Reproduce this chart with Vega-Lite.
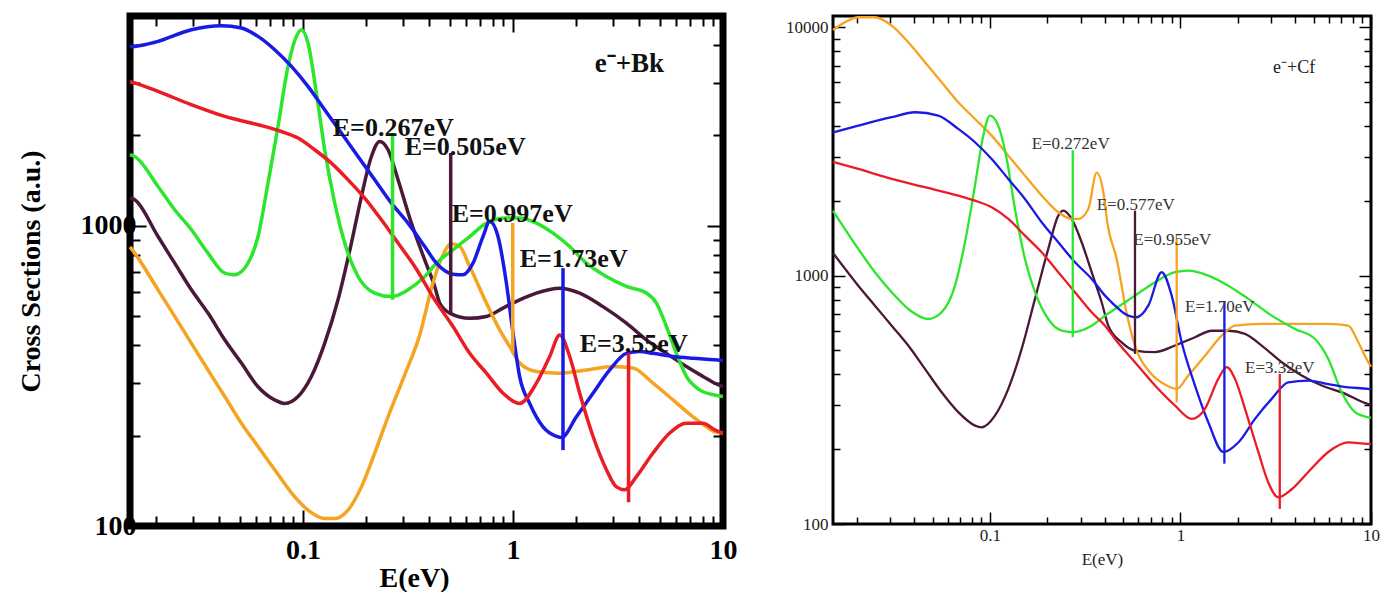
{
  "$schema": "https://vega.github.io/schema/vega-lite/v6.json",
  "autosize": {"type": "none"},
  "padding": {"left": 130, "top": 16, "right": 1252, "bottom": 576},
  "background": "white",
  "datasets": {
    "bk": [
      {"curve":"purple","E":0.015,"cs":1240},{"curve":"purple","E":0.0158,"cs":1221},{"curve":"purple","E":0.0204,"cs":921},{"curve":"purple","E":0.02449,"cs":751},{"curve":"purple","E":0.02941,"cs":612},{"curve":"purple","E":0.03529,"cs":512},{"curve":"purple","E":0.04238,"cs":417},{"curve":"purple","E":0.05088,"cs":349},{"curve":"purple","E":0.06105,"cs":291},{"curve":"purple","E":0.07331,"cs":263},{"curve":"purple","E":0.08182,"cs":256},{"curve":"purple","E":0.0947,"cs":270},{"curve":"purple","E":0.1096,"cs":315},{"curve":"purple","E":0.1268,"cs":406},{"curve":"purple","E":0.1468,"cs":567},{"curve":"purple","E":0.17,"cs":876},{"curve":"purple","E":0.1897,"cs":1252},{"curve":"purple","E":0.2117,"cs":1702},{"curve":"purple","E":0.2319,"cs":1910},{"curve":"purple","E":0.254,"cs":1792},{"curve":"purple","E":0.2835,"cs":1424},{"curve":"purple","E":0.3282,"cs":1021},{"curve":"purple","E":0.3798,"cs":770},{"curve":"purple","E":0.4238,"cs":628},{"curve":"purple","E":0.4477,"cs":553},{"curve":"purple","E":0.4995,"cs":512},{"curve":"purple","E":0.6221,"cs":492},{"curve":"purple","E":0.747,"cs":499},{"curve":"purple","E":0.8962,"cs":532},{"curve":"purple","E":1.0762,"cs":567},{"curve":"purple","E":1.2922,"cs":597},{"curve":"purple","E":1.6686,"cs":620},{"curve":"purple","E":2.0777,"cs":597},{"curve":"purple","E":2.6827,"cs":538},{"curve":"purple","E":3.4674,"cs":474},{"curve":"purple","E":4.3176,"cs":417},{"curve":"purple","E":5.3773,"cs":376},{"curve":"purple","E":6.6942,"cs":340},{"curve":"purple","E":8.0311,"cs":315},{"curve":"purple","E":9.131,"cs":299},{"curve":"purple","E":10,"cs":291},
      {"curve":"orange","E":0.015,"cs":851},{"curve":"orange","E":0.0158,"cs":811},{"curve":"orange","E":0.0204,"cs":612},{"curve":"orange","E":0.02449,"cs":499},{"curve":"orange","E":0.02941,"cs":406},{"curve":"orange","E":0.03529,"cs":331},{"curve":"orange","E":0.04238,"cs":270},{"curve":"orange","E":0.05088,"cs":220},{"curve":"orange","E":0.06105,"cs":184},{"curve":"orange","E":0.07331,"cs":154},{"curve":"orange","E":0.0881,"cs":129},{"curve":"orange","E":0.1056,"cs":113},{"curve":"orange","E":0.1268,"cs":106},{"curve":"orange","E":0.1416,"cs":106},{"curve":"orange","E":0.1638,"cs":113},{"curve":"orange","E":0.1897,"cs":135},{"curve":"orange","E":0.2195,"cs":175},{"curve":"orange","E":0.254,"cs":231},{"curve":"orange","E":0.305,"cs":319},{"curve":"orange","E":0.3596,"cs":433},{"curve":"orange","E":0.4159,"cs":646},{"curve":"orange","E":0.4642,"cs":801},{"curve":"orange","E":0.5089,"cs":871},{"curve":"orange","E":0.5575,"cs":853},{"curve":"orange","E":0.6221,"cs":732},{"curve":"orange","E":0.747,"cs":553},{"curve":"orange","E":0.8643,"cs":450},{"curve":"orange","E":0.9645,"cs":396},{"curve":"orange","E":1.0762,"cs":349},{"curve":"orange","E":1.2922,"cs":327},{"curve":"orange","E":1.6686,"cs":323},{"curve":"orange","E":2.2358,"cs":331},{"curve":"orange","E":2.9938,"cs":340},{"curve":"orange","E":3.7276,"cs":336},{"curve":"orange","E":4.6416,"cs":299},{"curve":"orange","E":5.7801,"cs":263},{"curve":"orange","E":7.1955,"cs":231},{"curve":"orange","E":8.3367,"cs":214},{"curve":"orange","E":9.131,"cs":206},{"curve":"orange","E":10,"cs":204},
      {"curve":"green","E":0.015,"cs":1725},{"curve":"green","E":0.0158,"cs":1702},{"curve":"green","E":0.0204,"cs":1352},{"curve":"green","E":0.02449,"cs":1131},{"curve":"green","E":0.02941,"cs":970},{"curve":"green","E":0.03529,"cs":811},{"curve":"green","E":0.04238,"cs":696},{"curve":"green","E":0.04727,"cs":687},{"curve":"green","E":0.0547,"cs":751},{"curve":"green","E":0.06105,"cs":921},{"curve":"green","E":0.06813,"cs":1388},{"curve":"green","E":0.07603,"cs":2143},{"curve":"green","E":0.08484,"cs":3396},{"curve":"green","E":0.093,"cs":4276},{"curve":"green","E":0.0983,"cs":4501},{"curve":"green","E":0.1056,"cs":4064},{"curve":"green","E":0.1158,"cs":2770},{"curve":"green","E":0.1268,"cs":1792},{"curve":"green","E":0.1416,"cs":1190},{"curve":"green","E":0.158,"cs":876},{"curve":"green","E":0.1828,"cs":678},{"curve":"green","E":0.2195,"cs":597},{"curve":"green","E":0.2636,"cs":581},{"curve":"green","E":0.3162,"cs":612},{"curve":"green","E":0.3798,"cs":678},{"curve":"green","E":0.4318,"cs":751},{"curve":"green","E":0.5179,"cs":832},{"curve":"green","E":0.6221,"cs":921},{"curve":"green","E":0.747,"cs":1021},{"curve":"green","E":0.9302,"cs":1061},{"curve":"green","E":1.0762,"cs":1061},{"curve":"green","E":1.2922,"cs":1021},{"curve":"green","E":1.5505,"cs":945},{"curve":"green","E":1.8621,"cs":853},{"curve":"green","E":2.2358,"cs":751},{"curve":"green","E":2.7847,"cs":678},{"curve":"green","E":3.4674,"cs":628},{"curve":"green","E":4.3176,"cs":597},{"curve":"green","E":4.8179,"cs":553},{"curve":"green","E":5.3773,"cs":462},{"curve":"green","E":5.9997,"cs":376},{"curve":"green","E":6.6942,"cs":315},{"curve":"green","E":7.7446,"cs":284},{"curve":"green","E":9.131,"cs":273},{"curve":"green","E":10,"cs":270},
      {"curve":"blue","E":0.015,"cs":3950},{"curve":"blue","E":0.0158,"cs":3960},{"curve":"blue","E":0.01763,"cs":4010},{"curve":"blue","E":0.0204,"cs":4115},{"curve":"blue","E":0.02941,"cs":4500},{"curve":"blue","E":0.04087,"cs":4640},{"curve":"blue","E":0.05088,"cs":4560},{"curve":"blue","E":0.06105,"cs":4276},{"curve":"blue","E":0.07331,"cs":3861},{"curve":"blue","E":0.0881,"cs":3396},{"curve":"blue","E":0.1056,"cs":2913},{"curve":"blue","E":0.1268,"cs":2436},{"curve":"blue","E":0.1523,"cs":2037},{"curve":"blue","E":0.1828,"cs":1702},{"curve":"blue","E":0.2195,"cs":1424},{"curve":"blue","E":0.2636,"cs":1190},{"curve":"blue","E":0.3162,"cs":1021},{"curve":"blue","E":0.3798,"cs":853},{"curve":"blue","E":0.4318,"cs":751},{"curve":"blue","E":0.5179,"cs":690},{"curve":"blue","E":0.5781,"cs":687},{"curve":"blue","E":0.645,"cs":751},{"curve":"blue","E":0.7196,"cs":921},{"curve":"blue","E":0.7745,"cs":1033},{"curve":"blue","E":0.8483,"cs":921},{"curve":"blue","E":0.9302,"cs":644},{"curve":"blue","E":1.0,"cs":440},{"curve":"blue","E":1.0762,"cs":314},{"curve":"blue","E":1.2012,"cs":256},{"curve":"blue","E":1.3895,"cs":214},{"curve":"blue","E":1.6094,"cs":199},{"curve":"blue","E":1.7,"cs":197},{"curve":"blue","E":2.004,"cs":231},{"curve":"blue","E":2.4044,"cs":277},{"curve":"blue","E":2.8873,"cs":331},{"curve":"blue","E":3.4674,"cs":376},{"curve":"blue","E":4.0117,"cs":381},{"curve":"blue","E":4.6416,"cs":376},{"curve":"blue","E":5.7801,"cs":367},{"curve":"blue","E":7.1955,"cs":362},{"curve":"blue","E":9.131,"cs":358},{"curve":"blue","E":10,"cs":356},
      {"curve":"red","E":0.015,"cs":3020},{"curve":"red","E":0.0158,"cs":2991},{"curve":"red","E":0.0204,"cs":2804},{"curve":"red","E":0.02941,"cs":2531},{"curve":"red","E":0.04238,"cs":2314},{"curve":"red","E":0.06105,"cs":2171},{"curve":"red","E":0.0789,"cs":2062},{"curve":"red","E":0.0947,"cs":1960},{"curve":"red","E":0.1137,"cs":1792},{"curve":"red","E":0.1365,"cs":1618},{"curve":"red","E":0.1638,"cs":1424},{"curve":"red","E":0.1967,"cs":1237},{"curve":"red","E":0.2362,"cs":1047},{"curve":"red","E":0.2835,"cs":876},{"curve":"red","E":0.3404,"cs":732},{"curve":"red","E":0.4238,"cs":567},{"curve":"red","E":0.5179,"cs":462},{"curve":"red","E":0.6221,"cs":376},{"curve":"red","E":0.747,"cs":323},{"curve":"red","E":0.8962,"cs":277},{"curve":"red","E":1.0762,"cs":256},{"curve":"red","E":1.2922,"cs":299},{"curve":"red","E":1.4955,"cs":367},{"curve":"red","E":1.6686,"cs":433},{"curve":"red","E":1.8621,"cs":367},{"curve":"red","E":2.0777,"cs":277},{"curve":"red","E":2.4044,"cs":199},{"curve":"red","E":2.7847,"cs":154},{"curve":"red","E":3.1074,"cs":135},{"curve":"red","E":3.404,"cs":132},{"curve":"red","E":3.8692,"cs":146},{"curve":"red","E":4.6416,"cs":175},{"curve":"red","E":5.5752,"cs":204},{"curve":"red","E":6.6942,"cs":220},{"curve":"red","E":8.0311,"cs":220},{"curve":"red","E":9.131,"cs":209},{"curve":"red","E":10,"cs":204}
    ],
    "bkSpikes": [
      {"curve":"green","E":0.267,"lo":567,"hi":2037},
      {"curve":"purple","E":0.505,"lo":513,"hi":1747},
      {"curve":"orange","E":0.997,"lo":376,"hi":1021},
      {"curve":"blue","E":1.73,"lo":179,"hi":723},
      {"curve":"red","E":3.55,"lo":120,"hi":376}
    ],
    "bkLabels": [
      {"E":0.1385,"cs":2122,"t":"E=0.267eV"},
      {"E":0.305,"cs":1834,"t":"E=0.505eV"},
      {"E":0.5105,"cs":1096,"t":"E=0.997eV"},
      {"E":1.076,"cs":776,"t":"E=1.73eV"},
      {"E":2.078,"cs":404,"t":"E=3.55eV"}
    ],
    "bkTag": [{"E":2.449,"cs":3467,"t":"e⁻+Bk"}],
    "cf": [
      {"curve":"purple","E":0.015,"cs":1234},{"curve":"purple","E":0.02036,"cs":911},{"curve":"purple","E":0.0249,"cs":757},{"curve":"purple","E":0.03048,"cs":629},{"curve":"purple","E":0.03725,"cs":523},{"curve":"purple","E":0.04558,"cs":421},{"curve":"purple","E":0.05578,"cs":339},{"curve":"purple","E":0.06817,"cs":282},{"curve":"purple","E":0.08343,"cs":249},{"curve":"purple","E":0.09046,"cs":245},{"curve":"purple","E":0.1062,"cs":273},{"curve":"purple","E":0.1248,"cs":350},{"curve":"purple","E":0.1467,"cs":507},{"curve":"purple","E":0.1723,"cs":806},{"curve":"purple","E":0.2023,"cs":1281},{"curve":"purple","E":0.2283,"cs":1744},{"curve":"purple","E":0.2425,"cs":1827},{"curve":"purple","E":0.2685,"cs":1692},{"curve":"purple","E":0.3029,"cs":1363},{"curve":"purple","E":0.3419,"cs":1032},{"curve":"purple","E":0.3858,"cs":781},{"curve":"purple","E":0.4178,"cs":629},{"curve":"purple","E":0.4913,"cs":539},{"curve":"purple","E":0.577,"cs":499},{"curve":"purple","E":0.7348,"cs":492},{"curve":"purple","E":0.9357,"cs":523},{"curve":"purple","E":1.1915,"cs":565},{"curve":"purple","E":1.4583,"cs":600},{"curve":"purple","E":1.7823,"cs":600},{"curve":"purple","E":2.1809,"cs":583},{"curve":"purple","E":2.6683,"cs":523},{"curve":"purple","E":3.3986,"cs":448},{"curve":"purple","E":4.3268,"cs":396},{"curve":"purple","E":5.5118,"cs":361},{"curve":"purple","E":7.0196,"cs":339},{"curve":"purple","E":9.6782,"cs":304},{"curve":"purple","E":10,"cs":302},
      {"curve":"orange","E":0.015,"cs":9750},{"curve":"orange","E":0.01733,"cs":10470},{"curve":"orange","E":0.02036,"cs":10970},{"curve":"orange","E":0.0249,"cs":10970},{"curve":"orange","E":0.03048,"cs":10150},{"curve":"orange","E":0.03725,"cs":8700},{"curve":"orange","E":0.04558,"cs":7230},{"curve":"orange","E":0.05578,"cs":6005},{"curve":"orange","E":0.06817,"cs":4990},{"curve":"orange","E":0.08343,"cs":4274},{"curve":"orange","E":0.1021,"cs":3661},{"curve":"orange","E":0.1248,"cs":3042},{"curve":"orange","E":0.1526,"cs":2527},{"curve":"orange","E":0.1868,"cs":2100},{"curve":"orange","E":0.2283,"cs":1800},{"curve":"orange","E":0.2685,"cs":1692},{"curve":"orange","E":0.2908,"cs":1692},{"curve":"orange","E":0.3281,"cs":1855},{"curve":"orange","E":0.3631,"cs":2600},{"curve":"orange","E":0.3936,"cs":2167},{"curve":"orange","E":0.414,"cs":1614},{"curve":"orange","E":0.4624,"cs":1167},{"curve":"orange","E":0.527,"cs":680},{"curve":"orange","E":0.5888,"cs":500},{"curve":"orange","E":0.6914,"cs":408},{"curve":"orange","E":0.8468,"cs":361},{"curve":"orange","E":0.955,"cs":350},{"curve":"orange","E":1.0987,"cs":396},{"curve":"orange","E":1.3448,"cs":476},{"curve":"orange","E":1.6458,"cs":573},{"curve":"orange","E":1.9324,"cs":629},{"curve":"orange","E":2.6683,"cs":639},{"curve":"orange","E":3.9902,"cs":639},{"curve":"orange","E":5.97,"cs":639},{"curve":"orange","E":7.6016,"cs":629},{"curve":"orange","E":8.577,"cs":539},{"curve":"orange","E":9.6782,"cs":448},{"curve":"orange","E":10,"cs":430},
      {"curve":"green","E":0.015,"cs":1822},{"curve":"green","E":0.02036,"cs":1281},{"curve":"green","E":0.0249,"cs":1032},{"curve":"green","E":0.03048,"cs":858},{"curve":"green","E":0.03725,"cs":734},{"curve":"green","E":0.04744,"cs":669},{"curve":"green","E":0.05578,"cs":712},{"curve":"green","E":0.06552,"cs":911},{"curve":"green","E":0.07392,"cs":1363},{"curve":"green","E":0.08343,"cs":2303},{"curve":"green","E":0.09222,"cs":3661},{"curve":"green","E":0.1,"cs":4406},{"curve":"green","E":0.1105,"cs":4017},{"curve":"green","E":0.1224,"cs":2950},{"curve":"green","E":0.1353,"cs":1855},{"curve":"green","E":0.1526,"cs":1167},{"curve":"green","E":0.1723,"cs":858},{"curve":"green","E":0.2023,"cs":669},{"curve":"green","E":0.2379,"cs":600},{"curve":"green","E":0.2685,"cs":592},{"curve":"green","E":0.3419,"cs":629},{"curve":"green","E":0.4016,"cs":690},{"curve":"green","E":0.4531,"cs":734},{"curve":"green","E":0.577,"cs":831},{"curve":"green","E":0.7348,"cs":941},{"curve":"green","E":0.9357,"cs":1032},{"curve":"green","E":1.0987,"cs":1047},{"curve":"green","E":1.3994,"cs":1000},{"curve":"green","E":1.7823,"cs":911},{"curve":"green","E":2.2697,"cs":806},{"curve":"green","E":3.011,"cs":690},{"curve":"green","E":3.9902,"cs":610},{"curve":"green","E":5.0816,"cs":556},{"curve":"green","E":5.97,"cs":462},{"curve":"green","E":7.0196,"cs":339},{"curve":"green","E":8.2414,"cs":282},{"curve":"green","E":9.6782,"cs":269},{"curve":"green","E":10,"cs":268},
      {"curve":"blue","E":0.015,"cs":3773},{"curve":"blue","E":0.02036,"cs":4017},{"curve":"blue","E":0.03048,"cs":4342},{"curve":"blue","E":0.0404,"cs":4548},{"curve":"blue","E":0.05355,"cs":4406},{"curve":"blue","E":0.06817,"cs":3896},{"curve":"blue","E":0.08343,"cs":3444},{"curve":"blue","E":0.1021,"cs":2950},{"curve":"blue","E":0.1248,"cs":2451},{"curve":"blue","E":0.1526,"cs":2036},{"curve":"blue","E":0.1868,"cs":1641},{"curve":"blue","E":0.2283,"cs":1363},{"curve":"blue","E":0.2795,"cs":1132},{"curve":"blue","E":0.3419,"cs":970},{"curve":"blue","E":0.4016,"cs":831},{"curve":"blue","E":0.4354,"cs":781},{"curve":"blue","E":0.5321,"cs":690},{"curve":"blue","E":0.589,"cs":680},{"curve":"blue","E":0.6776,"cs":757},{"curve":"blue","E":0.7966,"cs":1032},{"curve":"blue","E":0.8991,"cs":831},{"curve":"blue","E":1.0146,"cs":539},{"curve":"blue","E":1.1915,"cs":361},{"curve":"blue","E":1.3994,"cs":257},{"curve":"blue","E":1.678,"cs":195},{"curve":"blue","E":2.011,"cs":213},{"curve":"blue","E":2.461,"cs":265},{"curve":"blue","E":3.011,"cs":319},{"curve":"blue","E":3.6813,"cs":372},{"curve":"blue","E":4.687,"cs":378},{"curve":"blue","E":5.97,"cs":366},{"curve":"blue","E":7.6016,"cs":355},{"curve":"blue","E":9.6782,"cs":350},{"curve":"blue","E":10,"cs":348},
      {"curve":"red","E":0.015,"cs":2869},{"curve":"red","E":0.02036,"cs":2688},{"curve":"red","E":0.03048,"cs":2451},{"curve":"red","E":0.04558,"cs":2270},{"curve":"red","E":0.06817,"cs":2100},{"curve":"red","E":0.08343,"cs":2004},{"curve":"red","E":0.1021,"cs":1885},{"curve":"red","E":0.1248,"cs":1692},{"curve":"red","E":0.1526,"cs":1449},{"curve":"red","E":0.1868,"cs":1242},{"curve":"red","E":0.2283,"cs":1032},{"curve":"red","E":0.2795,"cs":858},{"curve":"red","E":0.3419,"cs":712},{"curve":"red","E":0.4016,"cs":629},{"curve":"red","E":0.4531,"cs":556},{"curve":"red","E":0.577,"cs":448},{"curve":"red","E":0.7348,"cs":361},{"curve":"red","E":0.9357,"cs":300},{"curve":"red","E":1.1448,"cs":265},{"curve":"red","E":1.3448,"cs":291},{"curve":"red","E":1.5794,"cs":384},{"curve":"red","E":1.7481,"cs":428},{"curve":"red","E":1.9324,"cs":384},{"curve":"red","E":2.1809,"cs":291},{"curve":"red","E":2.5611,"cs":195},{"curve":"red","E":2.8901,"cs":147},{"curve":"red","E":3.2622,"cs":128},{"curve":"red","E":3.8354,"cs":138},{"curve":"red","E":4.687,"cs":162},{"curve":"red","E":5.97,"cs":195},{"curve":"red","E":7.6016,"cs":213},{"curve":"red","E":9.6782,"cs":210},{"curve":"red","E":10,"cs":210}
    ],
    "cfSpikes": [
      {"curve":"green","E":0.272,"lo":565,"hi":3200},
      {"curve":"purple","E":0.577,"lo":484,"hi":1827},
      {"curve":"orange","E":0.955,"lo":309,"hi":1405},
      {"curve":"blue","E":1.70,"lo":175,"hi":781},
      {"curve":"red","E":3.32,"lo":115,"hi":402}
    ],
    "cfLabels": [
      {"E":0.1655,"cs":3390,"t":"E=0.272eV"},
      {"E":0.3631,"cs":1926,"t":"E=0.577eV"},
      {"E":0.5652,"cs":1386,"t":"E=0.955eV"},
      {"E":1.056,"cs":751,"t":"E=1.70eV"},
      {"E":2.181,"cs":425,"t":"E=3.32eV"}
    ],
    "cfTag": [{"E":3.059,"cs":6856,"t":"e⁻+Cf"}]
  },
  "spacing": 110,
  "bounds": "flush",
  "hconcat": [
    {
      "width": 593,
      "height": 510,
      "view": {"stroke": "#000000", "strokeWidth": 7},
      "resolve": {"axis": {"x": "independent", "y": "independent"}},
      "layer": [
        {
          "data": {"name": "bk"},
          "mark": {"type": "line", "strokeWidth": 3.5, "interpolate": "monotone"},
          "encoding": {
            "x": {"field": "E", "type": "quantitative",
              "scale": {"type": "log", "domain": [0.015, 10], "nice": false},
              "axis": {"orient": "bottom", "values": [0.1, 1, 10], "format": "~g", "domain": false, "grid": false,
                "tickSize": -16, "tickWidth": 2, "tickColor": "#000000",
                "labelFont": "Liberation Serif", "labelFontWeight": "bold", "labelFontSize": 28, "labelColor": "#000000",
                "labelPadding": 40, "labelBaseline": "middle", "labelFlush": false, "labelOverlap": false,
                "title": "E(eV)", "titleFont": "Liberation Serif", "titleFontWeight": "bold", "titleFontSize": 28,
                "titleColor": "#000000", "titleX": 284, "titleY": 52, "titleBaseline": "middle"}},
            "y": {"field": "cs", "type": "quantitative",
              "scale": {"type": "log", "domain": [100, 5000], "nice": false},
              "axis": {"orient": "left", "values": [100, 1000], "format": "~g", "domain": false, "grid": false,
                "tickSize": -16, "tickWidth": 2, "tickColor": "#000000",
                "labelFont": "Liberation Serif", "labelFontWeight": "bold", "labelFontSize": 28, "labelColor": "#000000",
                "labelPadding": 10, "labelFlush": false, "labelOverlap": false,
                "title": "Cross Sections (a.u.)", "titleFont": "Liberation Serif", "titleFontWeight": "bold",
                "titleFontSize": 28, "titleColor": "#000000", "titleX": -99, "titleBaseline": "middle"}},
            "color": {"field": "curve", "type": "nominal",
              "scale": {"domain": ["purple", "orange", "green", "blue", "red"],
                        "range": ["#4a1838", "#f5a321", "#2ce62c", "#1a1ae6", "#eb1c24"]},
              "legend": null}
          }
        },
        {
          "data": {"name": "bkSpikes"},
          "mark": {"type": "rule", "strokeWidth": 3.5},
          "encoding": {
            "x": {"field": "E", "type": "quantitative",
              "scale": {"type": "log", "domain": [0.015, 10], "nice": false},
              "axis": {"orient": "bottom", "values": [0.02,0.03,0.04,0.05,0.06,0.07,0.08,0.09,0.2,0.3,0.4,0.5,0.6,0.7,0.8,0.9,2,3,4,5,6,7,8,9],
                "labels": false, "title": null, "domain": false, "grid": false, "tickSize": -10, "tickWidth": 2, "tickColor": "#000000"}},
            "y": {"field": "lo", "type": "quantitative",
              "scale": {"type": "log", "domain": [100, 5000], "nice": false},
              "axis": {"orient": "left", "values": [200,300,400,500,600,700,800,900,2000,3000,4000],
                "labels": false, "title": null, "domain": false, "grid": false, "tickSize": -10, "tickWidth": 2, "tickColor": "#000000"}},
            "y2": {"field": "hi"},
            "color": {"field": "curve", "type": "nominal", "legend": null}
          }
        },
        {
          "data": {"name": "bkLabels"},
          "mark": {"type": "text", "align": "left", "baseline": "middle", "font": "Liberation Serif", "fontWeight": "bold", "fontSize": 26, "color": "#111111"},
          "encoding": {
            "x": {"field": "E", "type": "quantitative",
              "scale": {"type": "log", "domain": [0.015, 10], "nice": false},
              "axis": {"orient": "top", "values": [0.1, 1, 10], "labels": false, "title": null, "domain": false, "grid": false,
                "tickSize": -16, "tickWidth": 2, "tickColor": "#000000"}},
            "y": {"field": "cs", "type": "quantitative",
              "scale": {"type": "log", "domain": [100, 5000], "nice": false},
              "axis": {"orient": "right", "values": [100, 1000], "labels": false, "title": null, "domain": false, "grid": false,
                "tickSize": -16, "tickWidth": 2, "tickColor": "#000000"}},
            "text": {"field": "t"}
          }
        },
        {
          "data": {"name": "bkTag"},
          "mark": {"type": "text", "align": "left", "baseline": "middle", "font": "Liberation Serif", "fontWeight": "bold", "fontSize": 27, "color": "#111111"},
          "encoding": {
            "x": {"field": "E", "type": "quantitative",
              "scale": {"type": "log", "domain": [0.015, 10], "nice": false},
              "axis": {"orient": "top", "values": [0.02,0.03,0.04,0.05,0.06,0.07,0.08,0.09,0.2,0.3,0.4,0.5,0.6,0.7,0.8,0.9,2,3,4,5,6,7,8,9],
                "labels": false, "title": null, "domain": false, "grid": false, "tickSize": -10, "tickWidth": 2, "tickColor": "#000000"}},
            "y": {"field": "cs", "type": "quantitative",
              "scale": {"type": "log", "domain": [100, 5000], "nice": false},
              "axis": {"orient": "right", "values": [200,300,400,500,600,700,800,900,2000,3000,4000],
                "labels": false, "title": null, "domain": false, "grid": false, "tickSize": -10, "tickWidth": 2, "tickColor": "#000000"}},
            "text": {"field": "t"}
          }
        }
      ]
    },
    {
      "width": 538,
      "height": 508,
      "view": {"stroke": "#000000", "strokeWidth": 3},
      "resolve": {"axis": {"x": "independent", "y": "independent"}},
      "layer": [
        {
          "data": {"name": "cf"},
          "mark": {"type": "line", "strokeWidth": 2.3, "interpolate": "monotone"},
          "encoding": {
            "x": {"field": "E", "type": "quantitative",
              "scale": {"type": "log", "domain": [0.015, 10], "nice": false},
              "axis": {"orient": "bottom", "values": [0.1, 1, 10], "format": "~g", "domain": false, "grid": false,
                "tickSize": -12, "tickWidth": 1.5, "tickColor": "#000000",
                "labelFont": "Liberation Serif", "labelFontSize": 17, "labelColor": "#222222",
                "labelPadding": 23, "labelBaseline": "middle", "labelFlush": false, "labelOverlap": false,
                "title": "E(eV)", "titleFont": "Liberation Serif", "titleFontWeight": "normal", "titleFontSize": 17,
                "titleColor": "#222222", "titleY": 35, "titleBaseline": "middle"}},
            "y": {"field": "cs", "type": "quantitative",
              "scale": {"type": "log", "domain": [100, 11100], "nice": false},
              "axis": {"orient": "left", "values": [100, 1000, 10000], "format": "~g", "domain": false, "grid": false,
                "tickSize": -12, "tickWidth": 1.5, "tickColor": "#000000",
                "labelFont": "Liberation Serif", "labelFontSize": 17, "labelColor": "#222222",
                "labelPadding": 17, "labelFlush": false, "labelOverlap": false, "title": null}},
            "color": {"field": "curve", "type": "nominal", "legend": null}
          }
        },
        {
          "data": {"name": "cfSpikes"},
          "mark": {"type": "rule", "strokeWidth": 2.3},
          "encoding": {
            "x": {"field": "E", "type": "quantitative",
              "scale": {"type": "log", "domain": [0.015, 10], "nice": false},
              "axis": {"orient": "bottom", "values": [0.02,0.03,0.04,0.05,0.06,0.07,0.08,0.09,0.2,0.3,0.4,0.5,0.6,0.7,0.8,0.9,2,3,4,5,6,7,8,9],
                "labels": false, "title": null, "domain": false, "grid": false, "tickSize": -7, "tickWidth": 1.5, "tickColor": "#000000"}},
            "y": {"field": "lo", "type": "quantitative",
              "scale": {"type": "log", "domain": [100, 11100], "nice": false},
              "axis": {"orient": "left", "values": [200,300,400,500,600,700,800,900,2000,3000,4000,5000,6000,7000,8000,9000],
                "labels": false, "title": null, "domain": false, "grid": false, "tickSize": -7, "tickWidth": 1.5, "tickColor": "#000000"}},
            "y2": {"field": "hi"},
            "color": {"field": "curve", "type": "nominal", "legend": null}
          }
        },
        {
          "data": {"name": "cfLabels"},
          "mark": {"type": "text", "align": "left", "baseline": "middle", "font": "Liberation Serif", "fontSize": 17, "color": "#333333"},
          "encoding": {
            "x": {"field": "E", "type": "quantitative",
              "scale": {"type": "log", "domain": [0.015, 10], "nice": false},
              "axis": {"orient": "top", "values": [0.1, 1, 10], "labels": false, "title": null, "domain": false, "grid": false,
                "tickSize": -12, "tickWidth": 1.5, "tickColor": "#000000"}},
            "y": {"field": "cs", "type": "quantitative",
              "scale": {"type": "log", "domain": [100, 11100], "nice": false},
              "axis": {"orient": "right", "values": [100, 1000, 10000], "labels": false, "title": null, "domain": false, "grid": false,
                "tickSize": -12, "tickWidth": 1.5, "tickColor": "#000000"}},
            "text": {"field": "t"}
          }
        },
        {
          "data": {"name": "cfTag"},
          "mark": {"type": "text", "align": "left", "baseline": "middle", "font": "Liberation Serif", "fontSize": 18, "color": "#222222"},
          "encoding": {
            "x": {"field": "E", "type": "quantitative",
              "scale": {"type": "log", "domain": [0.015, 10], "nice": false},
              "axis": {"orient": "top", "values": [0.02,0.03,0.04,0.05,0.06,0.07,0.08,0.09,0.2,0.3,0.4,0.5,0.6,0.7,0.8,0.9,2,3,4,5,6,7,8,9],
                "labels": false, "title": null, "domain": false, "grid": false, "tickSize": -7, "tickWidth": 1.5, "tickColor": "#000000"}},
            "y": {"field": "cs", "type": "quantitative",
              "scale": {"type": "log", "domain": [100, 11100], "nice": false},
              "axis": {"orient": "right", "values": [200,300,400,500,600,700,800,900,2000,3000,4000,5000,6000,7000,8000,9000],
                "labels": false, "title": null, "domain": false, "grid": false, "tickSize": -7, "tickWidth": 1.5, "tickColor": "#000000"}},
            "text": {"field": "t"}
          }
        }
      ]
    }
  ]
}
